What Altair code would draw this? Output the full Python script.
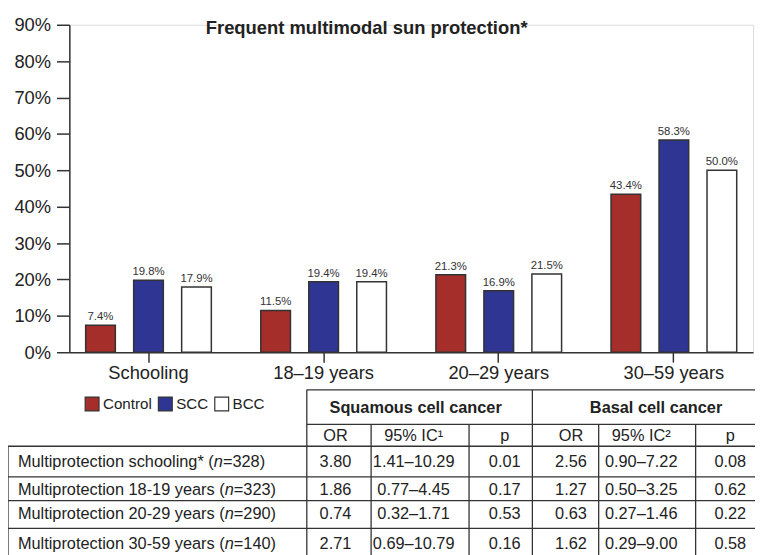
import altair as alt
import pandas as pd

# ---------------- data ----------------
groups = ["Schooling", "18–19 years", "20–29 years", "30–59 years"]
series = ["Control", "SCC", "BCC"]
control = [7.4, 11.5, 21.3, 43.4]
scc = [19.8, 19.4, 16.9, 58.3]
bcc = [17.9, 19.4, 21.5, 50.0]
series_colors = ["#A52D2A", "#2E3592", "#FFFFFF"]
y_ticks = [0, 10, 20, 30, 40, 50, 60, 70, 80, 90]
title_text = "Frequent multimodal sun protection*"

row_names = [
    "Multiprotection schooling*",
    "Multiprotection 18-19 years",
    "Multiprotection 20-29 years",
    "Multiprotection 30-59 years",
]
row_n = ["328", "323", "290", "140"]
scc_or = ["3.80", "1.86", "0.74", "2.71"]
scc_ci = ["1.41–10.29", "0.77–4.45", "0.32–1.71", "0.69–10.79"]
scc_p = ["0.01", "0.17", "0.53", "0.16"]
bcc_or = ["2.56", "1.27", "0.63", "1.62"]
bcc_ci = ["0.90–7.22", "0.50–3.25", "0.27–1.46", "0.29–9.00"]
bcc_p = ["0.08", "0.62", "0.22", "0.58"]
group_headers = ["Squamous cell cancer", "Basal cell cancer"]
sub_headers = ["OR", "95% IC¹", "p", "OR", "95% IC²", "p"]

# ---------------- layout ----------------
FONT = "Liberation Sans"
TXT = "#222222"
LINE = "#333333"
W, H = 691, 331
TFS = 16.5  # table font size

# table layout in page pixels
COL_X = [339, 418, 510, 577, 648, 738]
HEAD_X = [420, 663]
ROW_Y = [464, 492, 517, 547]
HEAD_Y, SUB_Y = 409, 438
LABEL_X = 18
RIGHT = 800
BOTTOM = 575
H_LINES = [(310, 391), (310, 426), (8, 448), (8, 479), (8, 503), (8, 531)]
V_LINES = [(8, 448), (310, 391), (375, 426), (474, 426), (538, 391), (605, 426), (703, 426)]

# Arial / Liberation Sans advance widths (per 1000 em)
AW = {" ": 278, "(": 333, ")": 333, "*": 389, "-": 333, "=": 584,
      "M": 833, "a": 556, "c": 500, "e": 556, "g": 556, "h": 556, "i": 222,
      "l": 222, "n": 556, "o": 556, "p": 556, "r": 333, "s": 500, "t": 278,
      "u": 556, "y": 500}
def tw(s, fs):
    return sum(AW.get(ch, 556) for ch in s) * fs / 1000.0

# ---------------- bar chart ----------------
bar_rows = []
for i, g in enumerate(groups):
    for s, vals in zip(series, [control, scc, bcc]):
        bar_rows.append({"group": g, "series": s, "value": vals[i]})
bars_df = pd.DataFrame(bar_rows)

x_band = alt.Scale(domain=groups, paddingInner=0.096, paddingOuter=0)
xo_scale = alt.Scale(domain=series, paddingInner=0.3814, paddingOuter=0.34)
y_scale = alt.Scale(domain=[0, 90], nice=False, zero=True)

bars = alt.Chart(bars_df).mark_bar(stroke=LINE, strokeWidth=1.5).encode(
    x=alt.X("group:N", sort=groups, scale=x_band,
            axis=alt.Axis(title=None, labelAngle=0, tickSize=10, tickWidth=1.5,
                          tickColor=LINE, domainColor=LINE, domainWidth=1.5,
                          labelFontSize=18.5, labelColor=TXT, labelFont=FONT,
                          labelPadding=2)),
    xOffset=alt.XOffset("series:N", sort=series, scale=xo_scale),
    y=alt.Y("value:Q", scale=y_scale,
            axis=alt.Axis(title=None, values=y_ticks, labelExpr="datum.value + '%'",
                          tickSize=13, tickWidth=1.5, tickColor=LINE,
                          domainColor=LINE, domainWidth=1.5, grid=False,
                          labelFontSize=18.5, labelColor=TXT, labelFont=FONT,
                          labelPadding=6)),
    fill=alt.Fill("series:N", sort=series,
                  scale=alt.Scale(domain=series, range=series_colors),
                  legend=alt.Legend(orient="none", legendX=15, legendY=375,
                                    direction="horizontal", title=None,
                                    symbolType="square", symbolSize=196,
                                    symbolStrokeColor=LINE, symbolStrokeWidth=1.2,
                                    symbolOpacity=1,
                                    labelFontSize=15.3, labelColor=TXT, labelFont=FONT,
                                    labelOffset=3, columnPadding=3, padding=0)),
)

labels = alt.Chart(bars_df).transform_calculate(
    label="format(datum.value, '.1f') + '%'"
).mark_text(dy=-5, baseline="alphabetic", fontSize=11.5, color="#333333", font=FONT).encode(
    x=alt.X("group:N", sort=groups, scale=x_band, axis=None),
    xOffset=alt.XOffset("series:N", sort=series, scale=xo_scale),
    y=alt.Y("value:Q", scale=y_scale, axis=None),
    text="label:N",
)

title_layer = alt.Chart(pd.DataFrame({"t": [title_text]})).mark_text(
    fontSize=18.6, fontWeight="bold", font=FONT, color=TXT, align="center",
    baseline="alphabetic").encode(
    x=alt.value(300.5), y=alt.value(9.5), text="t:N")

# ---------------- table ----------------
tx = alt.Scale(domain=[70, 70 + W], nice=False, zero=False)
ty = alt.Scale(domain=[22, 22 + H], nice=False, zero=False, reverse=True)

lines = []
for x0, y0 in H_LINES:
    lines.append({"x": x0, "x2": RIGHT, "y": y0, "y2": y0})
for x0, y0 in V_LINES:
    lines.append({"x": x0, "x2": x0, "y": y0, "y2": BOTTOM})
lines_df = pd.DataFrame(lines)
table_lines = alt.Chart(lines_df).mark_rule(color=LINE, strokeWidth=1.3).encode(
    x=alt.X("x:Q", scale=tx, axis=None), x2="x2:Q",
    y=alt.Y("y:Q", scale=ty, axis=None), y2="y2:Q")

bold_cells = [{"x": HEAD_X[k], "y": HEAD_Y, "t": group_headers[k]} for k in range(2)]
reg_cells = [{"x": COL_X[k], "y": SUB_Y, "t": sub_headers[k]} for k in range(6)]
for r in range(4):
    vals = [scc_or[r], scc_ci[r], scc_p[r], bcc_or[r], bcc_ci[r], bcc_p[r]]
    for k in range(6):
        reg_cells.append({"x": COL_X[k], "y": ROW_Y[r], "t": vals[k]})

left_cells, ital_cells = [], []
for r in range(4):
    pre = row_names[r] + " ("
    left_cells.append({"x": LABEL_X, "y": ROW_Y[r], "t": pre})
    xn = LABEL_X + tw(pre, TFS)
    ital_cells.append({"x": xn, "y": ROW_Y[r], "t": "n"})
    left_cells.append({"x": xn + tw("n", TFS), "y": ROW_Y[r], "t": "=" + row_n[r] + ")"})

def text_layer(rows, **kw):
    return alt.Chart(pd.DataFrame(rows)).mark_text(
        font=FONT, fontSize=TFS, color=TXT, baseline="middle", **kw).encode(
        x=alt.X("x:Q", scale=tx, axis=None),
        y=alt.Y("y:Q", scale=ty, axis=None),
        text="t:N")

t_bold = text_layer(bold_cells, align="center", fontWeight="bold")
t_reg = text_layer(reg_cells, align="center")
t_left = text_layer(left_cells, align="left")
t_ital = text_layer(ital_cells, align="left", fontStyle="italic")

chart = alt.layer(
    bars, labels, title_layer, table_lines, t_bold, t_reg, t_left, t_ital
).resolve_scale(
    x="independent", y="independent"
).properties(
    width=W, height=H,
    autosize=alt.AutoSizeParams(type="none"),
    padding={"left": 62, "top": 14, "right": 2, "bottom": 202},
).configure_view(stroke=None).configure(font=FONT)

chart.save("out.html", embed_options={"renderer": "svg", "actions": False})
